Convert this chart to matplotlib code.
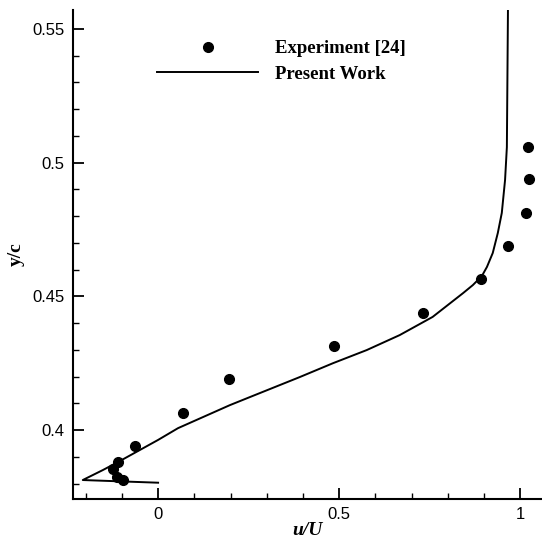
import matplotlib
matplotlib.use("Agg")
import matplotlib.pyplot as plt
from matplotlib.ticker import MultipleLocator

# experiment points (u/U, y/c)
exp_u = [1.021, 1.024, 1.016, 0.966, 0.891, 0.731, 0.485, 0.195, 0.069,
         -0.064, -0.111, -0.125, -0.114, -0.097]
exp_y = [0.506, 0.4937, 0.4813, 0.4687, 0.4563, 0.4437, 0.4313, 0.419, 0.4063,
         0.394, 0.3879, 0.3854, 0.3825, 0.3813]

# present work profile
sim_u = [0.0, -0.208, -0.153, -0.111, 0.0, 0.055, 0.198, 0.253, 0.391, 0.483,
         0.576, 0.667, 0.758, 0.842, 0.869, 0.894, 0.908, 0.924, 0.938, 0.949,
         0.958, 0.963, 0.966]
sim_y = [0.3803, 0.3813, 0.385, 0.388, 0.3963, 0.4007, 0.4093, 0.4123, 0.4198,
         0.425, 0.4299, 0.4355, 0.4423, 0.4512, 0.4542, 0.4576, 0.461, 0.4662,
         0.4737, 0.4812, 0.4935, 0.5058, 0.5571]

fig = plt.figure(figsize=(5.42, 5.41), dpi=100)
ax = fig.add_axes([0.134, 0.0776, 0.866, 0.904])

ax.plot(exp_u, exp_y, 'o', color='black', markersize=7, linestyle='none',
        label='Experiment [24]')
ax.plot(sim_u, sim_y, '-', color='black', linewidth=1.4, label='Present Work')

ax.set_xlim(-0.236, 1.06)
ax.set_ylim(0.3742, 0.5571)

ax.spines['top'].set_visible(False)
ax.spines['right'].set_visible(False)
ax.spines['left'].set_linewidth(1.5)
ax.spines['bottom'].set_linewidth(1.5)

ax.xaxis.set_major_locator(MultipleLocator(0.5))
ax.xaxis.set_minor_locator(MultipleLocator(0.1))
ax.yaxis.set_major_locator(MultipleLocator(0.05))
ax.yaxis.set_minor_locator(MultipleLocator(0.01))
ax.xaxis.set_major_formatter(plt.FuncFormatter(lambda v, p: ('%g' % round(v, 3))))
ax.yaxis.set_major_formatter(plt.FuncFormatter(lambda v, p: ('%g' % round(v, 3))))

ax.tick_params(which='major', direction='in', length=8, width=1.3,
               labelsize=12, pad=6)
ax.tick_params(which='minor', direction='in', length=4.5, width=1)
for lab in ax.get_xticklabels() + ax.get_yticklabels():
    lab.set_fontfamily('Liberation Sans')

ax.set_xlabel('u/U', fontfamily='Liberation Serif', fontweight='bold',
              fontstyle='italic', fontsize=14, labelpad=0)
ax.set_ylabel('y/c', fontfamily='Liberation Serif', fontweight='bold',
              fontsize=14, labelpad=5)

ax.legend(loc='upper left', bbox_to_anchor=(0.18, 0.938), frameon=False,
          borderaxespad=0, borderpad=0, handlelength=5.4, handletextpad=0.9,
          labelspacing=0.45,
          prop={'family': 'Liberation Serif', 'weight': 'bold', 'size': 13.5})

plt.savefig('out.png', dpi=100)
